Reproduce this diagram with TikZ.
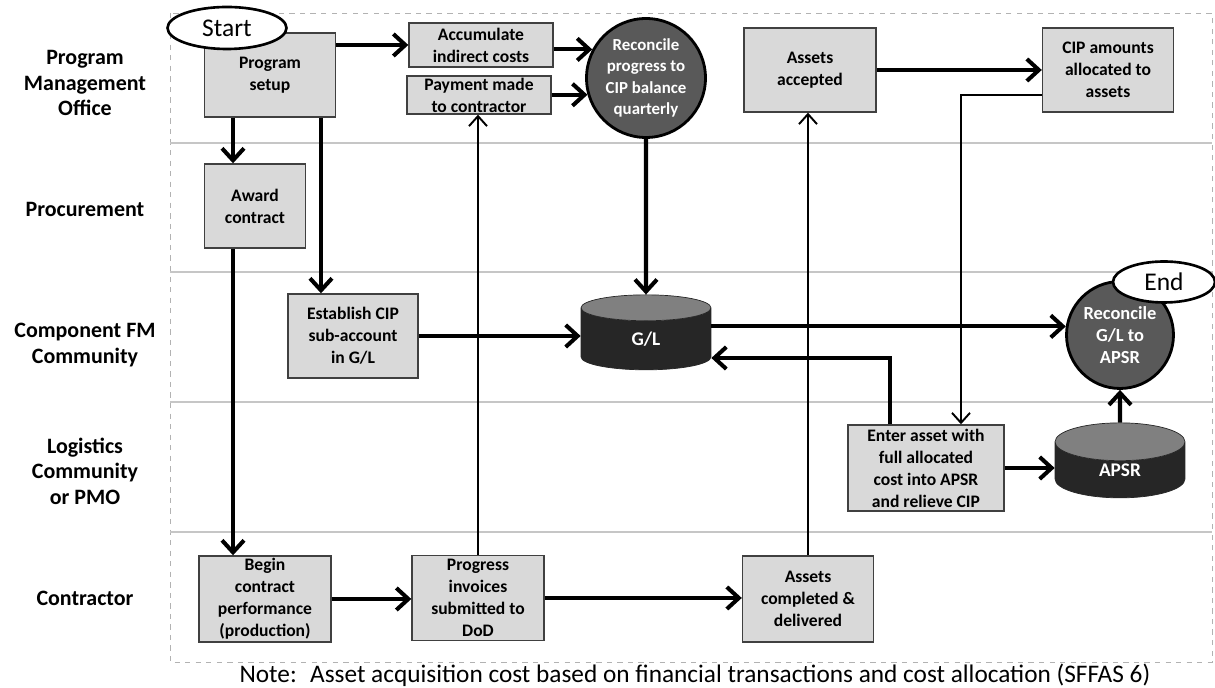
\documentclass[tikz,border=0pt]{standalone}
\usepackage{fontspec}
\setmainfont{Carlito}
\usetikzlibrary{arrows.meta,shapes.geometric}
\tikzset{
  lane/.style={align=center, font=\bfseries\fontsize{12.5}{14.5}\selectfont},
  task/.style={rectangle, draw=black!75, fill=black!15, line width=0.8pt, align=center, inner sep=0pt, font=\bfseries\fontsize{10}{12.5}\selectfont},
  check/.style={circle, draw=black, line width=1.6pt, fill=black!65, text=white, align=center, inner sep=0pt, font=\bfseries\fontsize{9.6}{12.3}\selectfont},
  store/.style={cylinder, shape border rotate=90, aspect=0.9, draw=black!85, cylinder uses custom fill, cylinder body fill=black!85, cylinder end fill=black!50, text=white, inner sep=0pt, font=\bfseries\fontsize{11}{13}\selectfont},
  term/.style={ellipse, draw=black, line width=1.5pt, fill=white, inner sep=0pt, font=\fontsize{14.5}{16}\selectfont},
  flow/.style={line width=2.3pt, -{Straight Barb[length=2.4mm, width=4.4mm]}},
  link/.style={line width=1.1pt, -{Straight Barb[length=2mm, width=3.6mm]}},
}
\begin{document}
\begin{tikzpicture}[x=0.02cm, y=-0.02cm]
\useasboundingbox (0,0) rectangle (1215,688);
\draw[gray!60, dashed, line width=0.4pt] (170,13) rectangle (1212,662);
\foreach \y in {143,272,402,532} \draw[gray!45, line width=0.6pt] (170,\y) -- (1212,\y);
\node[lane] (pmo) at (85,83) {Program\\Management\\Office};
\node[lane] (proc) at (85,209) {Procurement};
\node[lane] (fm) at (85,345) {Component FM\\Community};
\node[lane] (log) at (85,471) {Logistics\\Community\\or PMO};
\node[lane] (con) at (85,598) {Contractor};
\node[task, minimum width=2.62cm, minimum height=1.68cm] (setup) at (270,75) {Program\\setup};
\node[term, minimum width=2.38cm, minimum height=0.84cm] (start) at (227,28) {Start};
\node[task, minimum width=2.02cm, minimum height=1.68cm] (award) at (255,206) {Award\\contract};
\node[task, minimum width=2.6cm, minimum height=1.68cm] (est) at (353,336) {Establish CIP\\sub-account\\in G/L};
\node[task, minimum width=2.64cm, minimum height=1.72cm] (begin) at (265,599) {Begin\\contract\\performance\\(production)};
\node[task, minimum width=2.88cm, minimum height=0.88cm] (acc) at (481,45) {Accumulate\\indirect costs};
\node[task, minimum width=2.88cm, minimum height=0.76cm] (pay) at (479,95) {Payment made\\to contractor};
\node[check, minimum size=2.38cm] (rec) at (646,78) {Reconcile\\progress to\\CIP balance\\quarterly};
\node[task, minimum width=2.64cm, minimum height=1.68cm] (ok) at (810,70) {Assets\\accepted};
\node[task, minimum width=2.62cm, minimum height=1.68cm] (cip) at (1108,70) {CIP amounts\\allocated to\\assets};
\node[store, minimum width=2.6cm, minimum height=1.5cm] (gl) at (646,339) {G/L};
\node[check, minimum size=2.14cm, font=\bfseries\fontsize{10.5}{12.3}\selectfont] (rec2) at (1120,335) {Reconcile\\G/L to\\APSR};
\node[term, minimum width=2.04cm, minimum height=0.82cm] (end) at (1164,282) {End};
\node[task, minimum width=3.12cm, minimum height=1.72cm] (enter) at (926,468) {Enter asset with\\full allocated\\cost into APSR\\and relieve CIP};
\node[store, minimum width=2.6cm, minimum height=1.5cm] (apsr) at (1120,470) {APSR};
\node[task, minimum width=2.64cm, minimum height=1.7cm] (inv) at (478,598) {Progress\\invoices\\submitted to\\DoD};
\node[task, minimum width=2.62cm, minimum height=1.72cm] (done) at (808,599) {Assets\\completed \&\\delivered};
\node[font=\fontsize{14.4}{16}\selectfont, anchor=base] (note) at (695,683) {Note:~ Asset acquisition cost based on financial transactions and cost allocation (SFFAS 6)};
\draw[flow] (setup.east |- acc.west) -- (acc.west);
\draw[flow] ([xshift=-0.44cm]award.north |- setup.south) -- ([xshift=-0.44cm]award.north);
\draw[flow] ([xshift=1.02cm]setup.south) -- ([xshift=1.02cm]setup.south |- est.north);
\draw[flow] ([xshift=-0.44cm]award.south) -- ([xshift=-0.44cm]award.south |- begin.north);
\draw[flow] (acc.east |- rec.152) -- (rec.152);
\draw[flow] (pay.east |- rec.196) -- (rec.196);
\draw[flow] (rec.south) -- (gl.north);
\draw[flow] (est.east) -- (est.east -| gl.west);
\draw[flow] (gl.east |- rec2.171) -- (rec2.171);
\draw[flow] ([xshift=-0.72cm]enter.north) |- ([yshift=-0.38cm]gl.east);
\draw[link] ([yshift=-0.5cm]cip.west) -| ([xshift=0.7cm]enter.north);
\draw[flow] (ok.east) -- (cip.west);
\draw[flow] (enter.east) -- (enter.east -| apsr.west);
\draw[flow] (apsr.north) -- (rec2.south);
\draw[flow] (begin.east) -- (begin.east -| inv.west);
\draw[flow] (inv.east) -- (inv.east -| done.west);
\draw[link] (inv.north) -- (inv.north |- pay.south);
\draw[link] (done.north) -- (done.north |- ok.south);
\end{tikzpicture}
\end{document}
